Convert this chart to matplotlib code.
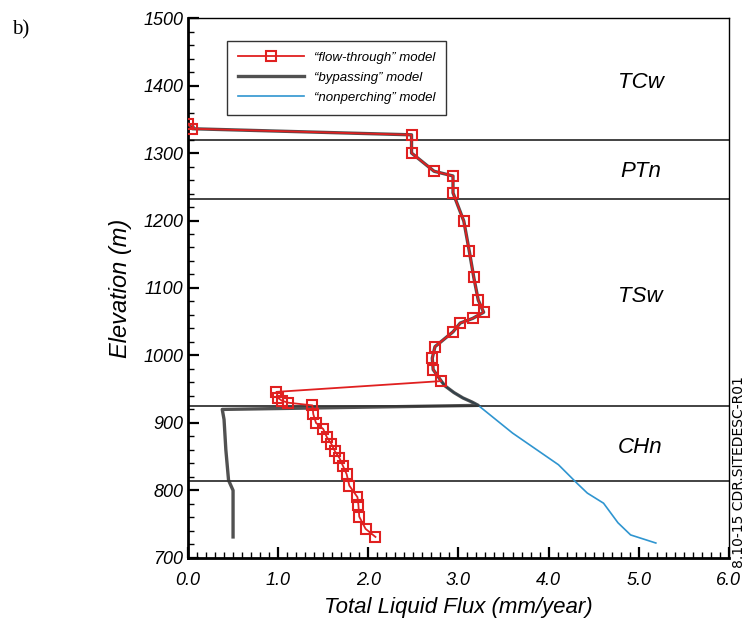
import matplotlib
matplotlib.use("Agg")
import matplotlib.pyplot as plt
from matplotlib.ticker import MultipleLocator

plt.rcParams['font.family'] = ['Liberation Sans', 'DejaVu Sans']

# shared upper part of the profile (TCw / PTn / TSw)
upper_flux = [0.0, 0.05, 2.48, 2.48, 2.73, 2.94, 2.94, 3.06, 3.12, 3.17, 3.22, 3.28,
              3.16, 3.02, 2.94, 2.74, 2.71, 2.72, 2.81]
upper_elev = [1343, 1336, 1327, 1300, 1273, 1266, 1241, 1199, 1155, 1116, 1082, 1064,
              1055, 1048, 1035, 1013, 996, 979, 962]

# "flow-through" model below 962 m
flow_flux = [0.98, 1.0, 1.04, 1.11, 1.38, 1.39, 1.42, 1.50, 1.54, 1.59, 1.63, 1.68,
             1.72, 1.76, 1.79, 1.88, 1.89, 1.90, 1.97, 2.08]
flow_elev = [946, 937, 933, 930, 926, 913, 900, 891, 879, 869, 858, 848,
             836, 824, 807, 790, 779, 761, 743, 731]

# transition curve into CHn shared by bypassing / nonperching
curve_flux = [2.85, 2.95, 3.05, 3.15, 3.22]
curve_elev = [955, 945, 937, 931, 926]

bypass_flux = [0.38, 0.40, 0.42, 0.45, 0.50, 0.50]
bypass_elev = [920, 905, 860, 815, 800, 731]

nonperch_flux = [3.6, 4.11, 4.32, 4.43, 4.61, 4.77, 4.91, 5.19]
nonperch_elev = [885, 838, 810, 796, 781, 752, 734, 722]

layer_bounds = [1320, 1232, 925, 814]
layer_names = ["TCw", "PTn", "TSw", "CHn"]
layer_label_elev = [1405, 1272, 1088, 863]

fig = plt.figure(figsize=(7.46, 6.24), dpi=100)
ax = fig.add_axes([0.252, 0.106, 0.725, 0.865])

for b in layer_bounds:
    ax.axhline(b, color='#222222', lw=1.2, zorder=1)

ax.plot(upper_flux + curve_flux + nonperch_flux,
        upper_elev + curve_elev + nonperch_elev,
        color='#2f95d0', lw=1.2, zorder=2, label='\u201cnonperching\u201d model')
ax.plot(upper_flux + curve_flux + bypass_flux,
        upper_elev + curve_elev + bypass_elev,
        color='#333333', lw=2.4, alpha=0.85, zorder=3, label='\u201cbypassing\u201d model')
ax.plot(upper_flux + flow_flux, upper_elev + flow_elev,
        color='#e02020', lw=1.3, marker='s', ms=6.5, mfc='none', mec='#e02020',
        mew=1.5, zorder=4, label='\u201cflow-through\u201d model')

for name, e in zip(layer_names, layer_label_elev):
    ax.text(5.02, e, name, fontsize=16, style='italic', ha='center', va='center')

ax.set_xlim(0, 6)
ax.set_ylim(700, 1500)
ax.xaxis.set_major_locator(MultipleLocator(1))
ax.xaxis.set_minor_locator(MultipleLocator(0.1))
ax.yaxis.set_major_locator(MultipleLocator(100))
ax.yaxis.set_minor_locator(MultipleLocator(20))
ax.set_xticks(ax.get_xticks())
ax.set_xticklabels(['%.1f' % t for t in ax.get_xticks()])
ax.tick_params(which='major', direction='in', length=8, width=1.6, labelsize=13)
ax.tick_params(axis='x', which='major', pad=10)
ax.tick_params(which='minor', direction='in', length=4, width=1.0)
for lab in ax.get_xticklabels() + ax.get_yticklabels():
    lab.set_style('italic')
ax.set_xlim(0, 6)

for s in ['left', 'bottom']:
    ax.spines[s].set_linewidth(2.0)
for s in ['top', 'right']:
    ax.spines[s].set_linewidth(1.0)

ax.set_xlabel('Total Liquid Flux (mm/year)', fontsize=16, style='italic', labelpad=6)
ax.set_ylabel('Elevation (m)', fontsize=17, style='italic', labelpad=8)

h, l = ax.get_legend_handles_labels()
leg = ax.legend(h[::-1], l[::-1], loc='upper left', bbox_to_anchor=(0.06, 0.97),
                fontsize=9.5, frameon=True, fancybox=False, edgecolor='black',
                handlelength=5, borderpad=0.8, labelspacing=0.6)
leg.get_frame().set_linewidth(1.0)
for t in leg.get_texts():
    t.set_style('italic')

fig.text(0.016, 0.945, 'b)', fontsize=15, family='Liberation Serif')
fig.text(0.991, 0.09, '8.10-15 CDR.SITEDESC-R01', fontsize=10, rotation=90,
         ha='center', va='bottom', family='Liberation Sans Narrow')

fig.savefig('out.png', dpi=100)
